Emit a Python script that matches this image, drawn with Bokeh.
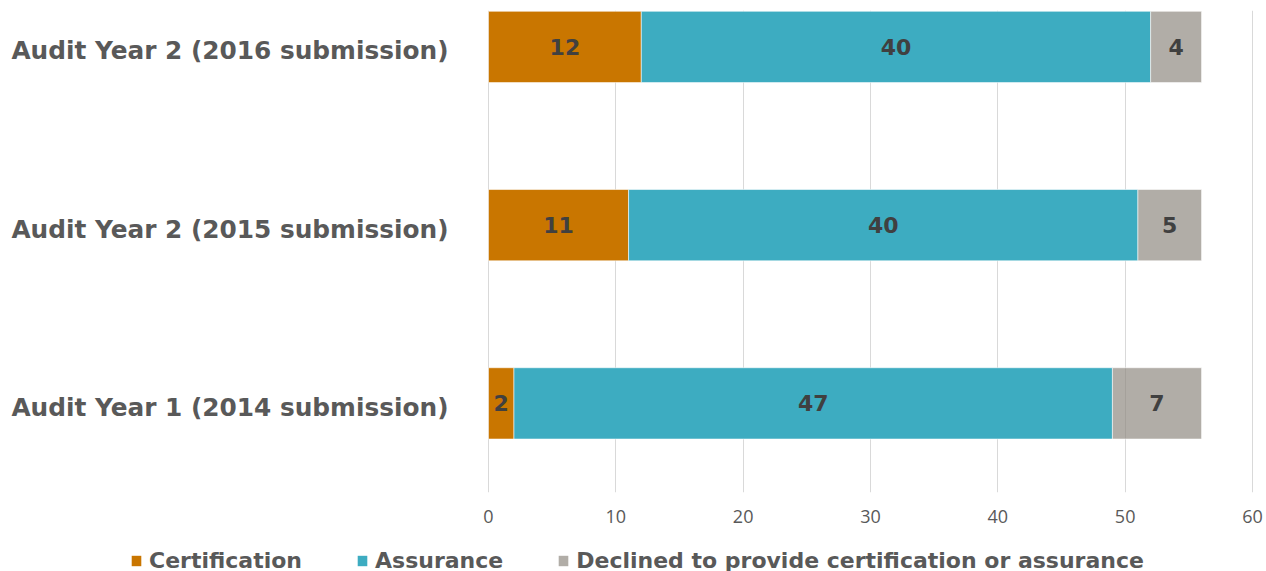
from bokeh.plotting import figure
from bokeh.layouts import column
from bokeh.models import (ColumnDataSource, FixedTicker, LabelSet, Legend, LegendItem,
                          Range1d)
from bokeh.core.properties import value
from bokeh.embed import file_html
from bokeh.resources import INLINE

categories = ["Audit Year 1 (2014 submission)",
              "Audit Year 2 (2015 submission)",
              "Audit Year 2 (2016 submission)"]
certification = [2, 11, 12]
assurance = [47, 40, 40]
declined = [7, 5, 4]
series_names = ["Certification", "Assurance",
                "Declined to provide certification or assurance"]
x_ticks = [0, 10, 20, 30, 40, 50, 60]

ypos = list(range(len(categories)))
src = ColumnDataSource(dict(y=ypos, cert=certification, assu=assurance, decl=declined))
colors = ["#C97600", "#3DACC1", "#8C867E"]

# layout geometry (pixels): value axis 0..60 spans x=488..1252 of a 1266 px wide frame
W = 1266
AX_LEFT, AX_RIGHT = 488, 1252
XMIN, XMAX = x_ticks[0], x_ticks[-1]
upp = (XMAX - XMIN) / (AX_RIGHT - AX_LEFT)
X0 = XMIN - AX_LEFT * upp
X1 = XMAX + (W - AX_RIGHT) * upp
Y0, Y1 = -0.5, 2.2045

p = figure(width=W, height=537, output_backend="svg", toolbar_location=None,
           x_range=Range1d(X0, X1), y_range=Range1d(Y0, Y1), y_axis_location=None,
           min_border_left=0, min_border_right=0, min_border_top=10,
           min_border_bottom=45)
p.outline_line_color = None
p.background_fill_color = "white"

renderers = p.hbar_stack(["cert", "assu", "decl"], y="y", height=0.4, source=src,
                         color=colors, line_color="white", line_width=0.8, line_alpha=0.7)
renderers[2].glyph.fill_alpha = 0.68

# value labels
lab_x, lab_y, lab_t = [], [], []
for i in ypos:
    vals = [certification[i], assurance[i], declined[i]]
    acc = 0
    for v in vals:
        lab_x.append(acc + v / 2)
        lab_y.append(i)
        lab_t.append(str(v))
        acc += v
lsrc = ColumnDataSource(dict(x=lab_x, y=lab_y, t=lab_t))
p.add_layout(LabelSet(x="x", y="y", text="t", source=lsrc, text_align="center",
                      text_baseline="middle", text_font=value("DejaVu Sans"),
                      text_font_style="bold", text_font_size="22px", text_color="#404040"))

# category labels, right-aligned just left of the bars' base
csrc = ColumnDataSource(dict(x=[XMIN] * len(categories), y=ypos, t=categories))
p.add_layout(LabelSet(x="x", y="y", text="t", source=csrc, text_align="right",
                      text_baseline="middle", x_offset=-40, y_offset=-4,
                      text_font=value("DejaVu Sans"), text_font_style="bold",
                      text_font_size="24.8px", text_color="#595959"))

# x axis
p.xaxis.ticker = FixedTicker(ticks=x_ticks)
p.xaxis.axis_line_color = None
p.xaxis.major_tick_line_color = None
p.xaxis.minor_tick_line_color = None
p.xaxis.major_label_text_font = "Open Sans"
p.xaxis.major_label_text_font_size = "18px"
p.xaxis.major_label_text_color = "#595959"
p.xaxis.major_label_standoff = 11

p.xgrid.grid_line_color = "#D9D9D9"
p.xgrid.grid_line_width = 1
p.ygrid.grid_line_color = None

# legend strip (its own small figure; the series there lie outside its view)
lp = figure(width=W, height=34, output_backend="svg", toolbar_location=None,
            x_range=Range1d(X0, X1), y_range=Range1d(100, 101),
            x_axis_location=None, y_axis_location=None,
            min_border_left=0, min_border_right=0, min_border_top=0, min_border_bottom=0)
lp.outline_line_color = None
lp.xgrid.visible = False
lp.ygrid.visible = False
lrend = lp.hbar_stack(["cert", "assu", "decl"], y="y", height=0.4, source=src,
                      color=colors, line_color=None)
lrend[2].glyph.fill_alpha = 0.68

legend = Legend(items=[LegendItem(label=n, renderers=[r]) for n, r in zip(series_names, lrend)],
                orientation="horizontal", location=(130, -2),
                glyph_width=12, glyph_height=13, label_standoff=7, spacing=54,
                padding=0, margin=0, border_line_color=None, background_fill_alpha=0,
                label_text_font="DejaVu Sans", label_text_font_style="bold",
                label_text_font_size="22px", label_text_color="#595959")
lp.add_layout(legend, "center")

layout = column(p, lp, spacing=0)
open("out.html", "w").write(file_html(layout, INLINE))
